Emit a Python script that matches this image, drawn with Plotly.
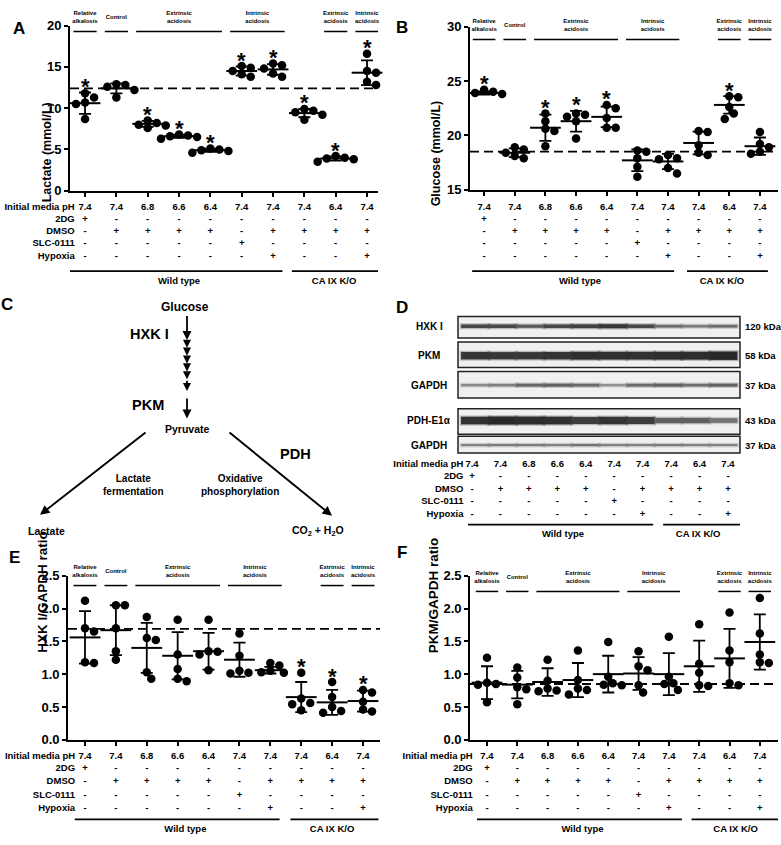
import plotly.graph_objects as go

W, H = 781, 845
FONT = "Liberation Sans, Arial, Helvetica, sans-serif"

# ---------------- data ----------------
groups_hdr = ["Relative<br>alkalosis", "Control", "Extrinsic<br>acidosis", "Intrinsic<br>acidosis",
              "Extrinsic<br>acidosis", "Intrinsic<br>acidosis"]
groups_span = [(0, 0), (1, 1), (2, 4), (5, 6), (8, 8), (9, 9)]

row_labels = ["Initial media pH", "2DG", "DMSO", "SLC-0111", "Hypoxia"]
ph_vals = ["7.4", "7.4", "6.8", "6.6", "6.4", "7.4", "7.4", "7.4", "6.4", "7.4"]
dg_vals = ["+", "-", "-", "-", "-", "-", "-", "-", "-", "-"]
dmso_vals = ["-", "+", "+", "+", "+", "-", "+", "+", "+", "+"]
slc_vals = ["-", "-", "-", "-", "-", "+", "-", "-", "-", "-"]
hyp_vals = ["-", "-", "-", "-", "-", "-", "+", "-", "-", "+"]
cell_lines = ["Wild type", "CA IX K/O"]

lactate_pts = [
    [11.8, 11.3, 10.7, 10.5, 8.7],
    [12.9, 12.8, 12.6, 12.2, 11.3],
    [8.5, 8.2, 8.0, 7.9, 7.6],
    [6.8, 6.7, 6.6, 6.5, 6.3],
    [5.1, 5.0, 4.9, 4.8, 4.6],
    [15.1, 14.9, 14.5, 14.1, 13.8],
    [15.4, 15.2, 14.8, 14.2, 13.8],
    [9.9, 9.7, 9.5, 9.2, 8.6],
    [4.2, 4.0, 3.9, 3.8, 3.5],
    [16.6, 14.5, 14.3, 13.2, 12.8],
]
lactate_mean = [10.6, 12.4, 8.1, 6.6, 4.9, 14.5, 14.7, 9.4, 3.9, 14.3]
lactate_sd = [1.3, 0.6, 0.35, 0.2, 0.2, 0.55, 0.65, 0.5, 0.25, 1.5]
lactate_star = [1, 0, 1, 1, 1, 1, 1, 1, 1, 1]
lactate_ref = 12.4

glucose_pts = [
    [24.2, 24.0, 23.9, 23.8, 23.7],
    [18.9, 18.7, 18.4, 18.1, 17.9],
    [22.0, 21.3, 20.6, 20.4, 19.0],
    [22.0, 21.9, 21.7, 21.3, 19.7],
    [22.8, 22.5, 21.6, 20.7, 20.7],
    [18.6, 18.5, 17.9, 17.1, 16.2],
    [18.2, 17.9, 17.8, 17.0, 16.5],
    [20.4, 20.3, 19.1, 18.4, 18.2],
    [23.6, 23.5, 22.6, 22.0, 21.5],
    [20.3, 19.2, 18.9, 18.5, 18.3],
]
glucose_mean = [23.9, 18.4, 20.7, 21.3, 21.7, 17.7, 17.6, 19.3, 22.8, 19.0]
glucose_sd = [0.15, 0.4, 1.2, 0.95, 0.95, 1.0, 0.7, 1.05, 0.8, 0.8]
glucose_star = [1, 0, 1, 1, 1, 0, 0, 0, 1, 0]
glucose_ref = 18.5

hxk_pts = [
    [2.12, 1.70, 1.65, 1.18, 1.17],
    [2.05, 2.05, 1.70, 1.35, 1.22],
    [1.87, 1.55, 1.52, 1.03, 0.93],
    [1.83, 1.30, 1.08, 0.93, 0.89],
    [1.83, 1.35, 1.34, 1.30, 1.06],
    [1.62, 1.28, 1.05, 1.02, 1.01],
    [1.17, 1.13, 1.05, 1.03, 1.02],
    [1.02, 0.63, 0.56, 0.54, 0.45],
    [0.88, 0.65, 0.50, 0.44, 0.41],
    [0.76, 0.72, 0.58, 0.46, 0.43],
]
hxk_mean = [1.56, 1.67, 1.40, 1.28, 1.35, 1.22, 1.06, 0.65, 0.57, 0.59]
hxk_sd = [0.40, 0.38, 0.38, 0.36, 0.28, 0.26, 0.05, 0.23, 0.19, 0.16]
hxk_star = [0, 0, 0, 0, 0, 0, 0, 1, 1, 1]
hxk_ref = 1.69

pkm_pts = [
    [1.25, 0.87, 0.85, 0.84, 0.57],
    [1.10, 0.95, 0.80, 0.77, 0.54],
    [1.22, 0.90, 0.78, 0.75, 0.74],
    [1.36, 0.91, 0.78, 0.76, 0.69],
    [1.49, 0.96, 0.86, 0.84, 0.83],
    [1.35, 1.12, 1.06, 0.83, 0.72],
    [1.57, 0.96, 0.86, 0.85, 0.76],
    [1.76, 1.16, 1.02, 0.83, 0.82],
    [1.94, 1.36, 1.18, 0.86, 0.83],
    [2.16, 1.62, 1.30, 1.18, 1.17],
]
pkm_mean = [0.87, 0.84, 0.88, 0.91, 1.00, 1.01, 1.00, 1.12, 1.24, 1.49]
pkm_sd = [0.25, 0.21, 0.21, 0.26, 0.28, 0.25, 0.32, 0.39, 0.45, 0.42]
pkm_star = [0] * 10
pkm_ref = 0.85

# western blot band intensities (0..1) per lane
blot_names = ["HXK I", "PKM", "GAPDH", "PDH-E1α", "GAPDH"]
blot_kda = ["120 kDa", "58 kDa", "37 kDa", "43 kDa", "37 kDa"]
band_hxk = [0.78, 0.78, 0.68, 0.78, 0.82, 0.88, 0.78, 0.58, 0.52, 0.58]
band_pkm = [0.90, 0.88, 0.88, 0.90, 0.95, 0.93, 0.93, 0.95, 0.95, 1.00]
band_gapdh1 = [0.45, 0.50, 0.62, 0.65, 0.60, 0.42, 0.60, 0.65, 0.58, 0.65]
band_pdh = [0.92, 0.97, 0.95, 0.93, 0.85, 0.90, 0.85, 0.65, 0.65, 0.55]
band_gapdh2 = [0.50, 0.52, 0.52, 0.50, 0.55, 0.50, 0.50, 0.52, 0.50, 0.50]

# ---------------- helpers ----------------
def xd(l, r):
    return [l / W, r / W]

def yd(t, b):
    return [1 - b / H, 1 - t / H]

fig = go.Figure()
layout = dict(width=W, height=H, margin=dict(l=0, r=0, t=0, b=0),
              paper_bgcolor="white", plot_bgcolor="rgba(0,0,0,0)", showlegend=False,
              font=dict(family=FONT, color="black"))
annotations = []
shapes = []

def swarm(vals, sx, sy, d=8.2):
    idx = sorted(range(len(vals)), key=lambda i: -vals[i])
    placed = []
    off = [0.0] * len(vals)
    for i in idx:
        yp = vals[i] * sy
        xp = 0.0
        for k in [0, 1, -1, 2, -2, 3, -3, 4, -4]:
            xp = k * d * 0.55
            if all((xp - a) ** 2 + (yp - b) ** 2 >= (d * 0.92) ** 2 for a, b in placed):
                break
        placed.append((xp, yp))
        off[i] = xp / sx
    return off

panels = [
    dict(n="", yn="", yauxn="2", xdom=(70, 378), xr=(-0.48, 9.35), ydom=(19, 187), yr=(0, 20), dtick=5,
         fmt="", auxdom=(0, 292), head_t=10.5, head_l=25, rows=[204, 216, 228.5, 241, 254], line_y=269,
         lab_y=280, rowlab_x=-0.33, wt=(-0.48, 6.3, 3.0), ca=(6.6, 9.35, 7.95),
         pts=lactate_pts, mean=lactate_mean, sd=lactate_sd, star=lactate_star, ref=lactate_ref,
         title="Lactate (mmol/L)", tsize=12.5, tpos=(38, 95), letter=("A", 11, 10)),
    dict(n="2", yn="3", yauxn="4", xdom=(470, 778), xr=(-0.46, 9.59), ydom=(20, 186), yr=(15, 30), dtick=5,
         fmt="", auxdom=(0, 292), head_t=19, head_l=33, rows=[204, 216, 228.5, 241, 254], line_y=269,
         lab_y=280, rowlab_x=-0.47, wt=(-0.39, 6.2, 3.13), ca=(6.62, 9.26, 7.76),
         pts=glucose_pts, mean=glucose_mean, sd=glucose_sd, star=glucose_star, ref=glucose_ref,
         title="Glucose (mmol/L)", tsize=12.5, tpos=(436, 93), letter=("B", 402, 9)),
    dict(n="3", yn="5", yauxn="6", xdom=(68, 380), xr=(-0.55, 9.55), ydom=(579, 746), yr=(0, 2.5), dtick=0.5,
         fmt=".1f", auxdom=(560, 845), head_t=575, head_l=589, rows=[763, 775, 789, 803, 816], line_y=827,
         lab_y=838, rowlab_x=-0.32, wt=(-0.33, 6.3, 3.25), ca=(6.65, 9.5, 8.0),
         pts=hxk_pts, mean=hxk_mean, sd=hxk_sd, star=hxk_star, ref=hxk_ref,
         title="HXK I/GAPDH ratio", tsize=13.5, tpos=(33, 660), letter=("E", 7, 572)),
    dict(n="4", yn="7", yauxn="8", xdom=(470, 778), xr=(-0.56, 9.6), ydom=(579, 746), yr=(0, 2.5), dtick=0.5,
         fmt=".1f", auxdom=(560, 845), head_t=581, head_l=595, rows=[763, 775, 789, 803, 816], line_y=827,
         lab_y=838, rowlab_x=-0.47, wt=(-0.33, 6.43, 3.15), ca=(6.75, 9.65, 8.2),
         pts=pkm_pts, mean=pkm_mean, sd=pkm_sd, star=pkm_star, ref=pkm_ref,
         title="PKM/GAPDH ratio", tsize=13.5, tpos=(433, 660), letter=("F", 402, 567)),
]

table_rows = [ph_vals, dg_vals, dmso_vals, slc_vals, hyp_vals]
BOLD = dict(family=FONT, color="black", weight="bold")

for p in panels:
    xname, yname, yaux = "x" + p["n"], "y" + p["yn"], "y" + p["yauxn"]
    layout["xaxis" + p["n"]] = dict(domain=xd(*p["xdom"]), range=list(p["xr"]), anchor=yname,
                                    showline=True, linecolor="black", linewidth=1.8, ticks="outside",
                                    ticklen=4, tickwidth=1.5, tickcolor="black", tickvals=list(range(10)),
                                    showticklabels=False, showgrid=False, zeroline=False, fixedrange=True)
    layout["yaxis" + p["yn"]] = dict(domain=yd(*p["ydom"]), range=list(p["yr"]), anchor=xname,
                                     showline=True, linecolor="black", linewidth=1.8, ticks="outside",
                                     ticklen=4, tickwidth=1.5, tickcolor="black", dtick=p["dtick"],
                                     tickformat=p["fmt"], tickfont=dict(size=13, **BOLD),
                                     showgrid=False, zeroline=False, fixedrange=True)
    layout["yaxis" + p["yauxn"]] = dict(domain=yd(*p["auxdom"]), range=[p["auxdom"][1], p["auxdom"][0]],
                                        anchor=xname, visible=False, fixedrange=True)
    sx = (p["xdom"][1] - p["xdom"][0]) / (p["xr"][1] - p["xr"][0])
    sy = (p["ydom"][1] - p["ydom"][0]) / (p["yr"][1] - p["yr"][0])
    # dashed reference line
    fig.add_trace(go.Scatter(x=list(p["xr"]), y=[p["ref"], p["ref"]], mode="lines", xaxis=xname, yaxis=yname,
                             line=dict(color="black", width=1.8, dash="9px,5px"), hoverinfo="skip"))
    # points
    xs, ys = [], []
    for i, vals in enumerate(p["pts"]):
        offs = swarm(vals, sx, sy)
        for v, o in zip(vals, offs):
            xs.append(i + o)
            ys.append(v)
    fig.add_trace(go.Scatter(x=xs, y=ys, mode="markers", xaxis=xname, yaxis=yname,
                             marker=dict(size=8.5, color="black"), cliponaxis=False))
    # mean +/- SD
    fig.add_trace(go.Scatter(x=list(range(10)), y=p["mean"], mode="markers", xaxis=xname, yaxis=yname,
                             marker=dict(symbol="line-ew", size=22, line=dict(width=2, color="black")),
                             error_y=dict(type="data", array=p["sd"], visible=True, color="black",
                                          thickness=1.8, width=6), cliponaxis=False))
    # stars
    for i, s in enumerate(p["star"]):
        if s:
            top = max(p["mean"][i] + p["sd"][i], max(p["pts"][i]))
            annotations.append(dict(x=i, y=top, xref=xname, yref=yname, text="<b>*</b>", showarrow=False,
                                    font=dict(size=22, family=FONT, color="black"), yanchor="middle",
                                    yshift=6))
    # group headers
    hx, htxt, lx, ly = [], [], [], []
    for lab, (a, b) in zip(groups_hdr, groups_span):
        hx.append((a + b) / 2)
        htxt.append(lab)
        lx += [a - 0.37, b + 0.37, None]
        ly += [p["head_l"], p["head_l"], None]
    fig.add_trace(go.Scatter(x=hx, y=[p["head_t"]] * len(hx), text=htxt, mode="text", xaxis=xname,
                             yaxis=yaux, textfont=dict(size=6, **BOLD), cliponaxis=False))
    fig.add_trace(go.Scatter(x=lx, y=ly, mode="lines", xaxis=xname, yaxis=yaux,
                             line=dict(color="black", width=1.5), cliponaxis=False))
    # table
    for r, (lab, vals) in enumerate(zip(row_labels, table_rows)):
        fig.add_trace(go.Scatter(x=list(range(10)), y=[p["rows"][r]] * 10, text=vals, mode="text",
                                 xaxis=xname, yaxis=yaux, textfont=dict(size=9.5, **BOLD), cliponaxis=False))
        fig.add_trace(go.Scatter(x=[p["rowlab_x"]], y=[p["rows"][r]], text=[lab], mode="text",
                                 textposition="middle left", xaxis=xname, yaxis=yaux,
                                 textfont=dict(size=9.5, **BOLD), cliponaxis=False))
    wt, ca = p["wt"], p["ca"]
    fig.add_trace(go.Scatter(x=[wt[0], wt[1], None, ca[0], ca[1]],
                             y=[p["line_y"]] * 2 + [None] + [p["line_y"]] * 2, mode="lines",
                             xaxis=xname, yaxis=yaux, line=dict(color="black", width=1.8), cliponaxis=False))
    fig.add_trace(go.Scatter(x=[wt[2], ca[2]], y=[p["lab_y"]] * 2, text=cell_lines, mode="text",
                             xaxis=xname, yaxis=yaux, textfont=dict(size=9.5, **BOLD), cliponaxis=False))
    # y title and panel letter
    annotations.append(dict(x=p["tpos"][0] / W, y=1 - p["tpos"][1] / H, xref="paper", yref="paper",
                            text="<b>%s</b>" % p["title"], textangle=-90, showarrow=False,
                            font=dict(size=p["tsize"], family=FONT, color="black")))
    L = p["letter"]
    annotations.append(dict(x=L[1] / W, y=1 - L[2] / H, xref="paper", yref="paper", text="<b>%s</b>" % L[0],
                            showarrow=False, font=dict(size=17, family=FONT, color="black")))

# ---------------- global pixel axes (panels C & D) ----------------
layout["xaxis5"] = dict(domain=[0, 1], range=[0, W], anchor="y9", visible=False, fixedrange=True)
layout["yaxis9"] = dict(domain=[0, 1], range=[H, 0], anchor="x5", visible=False, fixedrange=True)
layout["xaxis6"] = dict(domain=xd(458, 740), range=[-0.62, 9.6], anchor="y9", visible=False, fixedrange=True)
layout["xaxis7"] = dict(domain=xd(458, 740), range=[-0.492, 9.423], anchor="y9", visible=False, fixedrange=True)

def gtext(x, y, t, size, **kw):
    d = dict(x=x, y=y, xref="x5", yref="y9", text="<b>%s</b>" % t, showarrow=False,
             font=dict(size=size, family=FONT, color="black"))
    d.update(kw)
    annotations.append(d)

def garrow(x0, y0, x1, y1, size=1.0, width=1.8):
    annotations.append(dict(x=x1, y=y1, ax=x0, ay=y0, xref="x5", yref="y9", axref="x5", ayref="y9",
                            text="", showarrow=True, arrowhead=2, arrowsize=size, arrowwidth=width,
                            arrowcolor="black", standoff=0, startstandoff=0))

# Panel C
gtext(7, 303, "C", 17)
gtext(185, 305, "Glucose", 12)
gtext(149, 333, "HXK I", 14.5)
gtext(148, 405, "PKM", 14.5)
gtext(187, 430, "Pyruvate", 10.5)
gtext(295, 455, "PDH", 14.5)
gtext(133, 487, "Lactate<br>fermentation", 10)
gtext(240, 487, "Oxidative<br>phosphorylation", 10)
gtext(46, 533, "Lactate", 10.5)
gtext(318, 533, "CO<sub>2</sub> + H<sub>2</sub>O", 10.5)
garrow(187, 313, 187, 339)
chain = [339, 347, 355, 363, 371, 379, 391]
for a, b in zip(chain[:-1], chain[1:]):
    garrow(187, a, 187, b, size=0.9)
garrow(187, 397, 187, 419)
garrow(147, 432, 40, 517, width=1.9)
garrow(228, 432, 332, 518, width=1.9)

# Panel D
gtext(402, 306, "D", 17)
blot_rows = [(315, 337, 325, 4.0), (341, 367, 355, 7.0), (371, 398, 385, 4.0), (409, 435, 421, 7.0),
             (437, 454, 446, 3.2)]
band_sets = [band_hxk, band_pkm, band_gapdh1, band_pdh, band_gapdh2]
for (t, b, yc, base), name, kda, bands in zip(blot_rows, blot_names, blot_kda, band_sets):
    shapes.append(dict(type="rect", xref="x5", yref="y9", x0=458, x1=740, y0=t, y1=b,
                       line=dict(color="#222222", width=1.5), fillcolor="#f0f0f0", layer="below"))
    gtext(429, yc, name, 10)
    gtext(743, yc, kda, 9.5, xanchor="left")
    th = [base * (0.45 + 0.75 * v * v) for v in bands]
    col = ["rgb(%d,%d,%d)" % ((int(40 + 200 * (1 - v) ** 1.2),) * 3) for v in bands]
    soft = ["rgba(%d,%d,%d,0.3)" % ((int(40 + 200 * (1 - v) ** 1.2),) * 3) for v in bands]
    fig.add_trace(go.Scatter(x=list(range(10)), y=[yc] * 10, mode="markers", xaxis="x6", yaxis="y9",
                             marker=dict(symbol="line-ew", size=22, line=dict(width=[w + 2.5 for w in th], color=soft)),
                             cliponaxis=False))
    fig.add_trace(go.Scatter(x=list(range(10)), y=[yc] * 10, mode="markers", xaxis="x6", yaxis="y9",
                             marker=dict(symbol="line-ew", size=20, line=dict(width=th, color=col)),
                             cliponaxis=False))

d_rows = [466, 478, 491, 504, 517]
for r, (lab, vals) in enumerate(zip(row_labels, table_rows)):
    fig.add_trace(go.Scatter(x=list(range(10)), y=[d_rows[r]] * 10, text=vals, mode="text",
                             xaxis="x7", yaxis="y9", textfont=dict(size=9.5, **BOLD), cliponaxis=False))
    fig.add_trace(go.Scatter(x=[-0.3], y=[d_rows[r]], text=[lab], mode="text", textposition="middle left",
                             xaxis="x7", yaxis="y9", textfont=dict(size=9.5, **BOLD), cliponaxis=False))
fig.add_trace(go.Scatter(x=[-0.14, 6.37, None, 6.72, 9.49], y=[527, 527, None, 527, 527], mode="lines",
                         xaxis="x7", yaxis="y9", line=dict(color="black", width=1.8), cliponaxis=False))
fig.add_trace(go.Scatter(x=[3.2, 7.95], y=[537, 537], text=cell_lines, mode="text", xaxis="x7", yaxis="y9",
                         textfont=dict(size=9.5, **BOLD), cliponaxis=False))

layout["annotations"] = annotations
layout["shapes"] = shapes
fig.update_layout(**layout)
fig.update_traces(hoverinfo="skip")
fig.write_html("out.html", config={"displayModeBar": False},
               post_script="document.body.style.margin='0';document.body.style.padding='0';"
                           "document.body.style.overflow='hidden';")
